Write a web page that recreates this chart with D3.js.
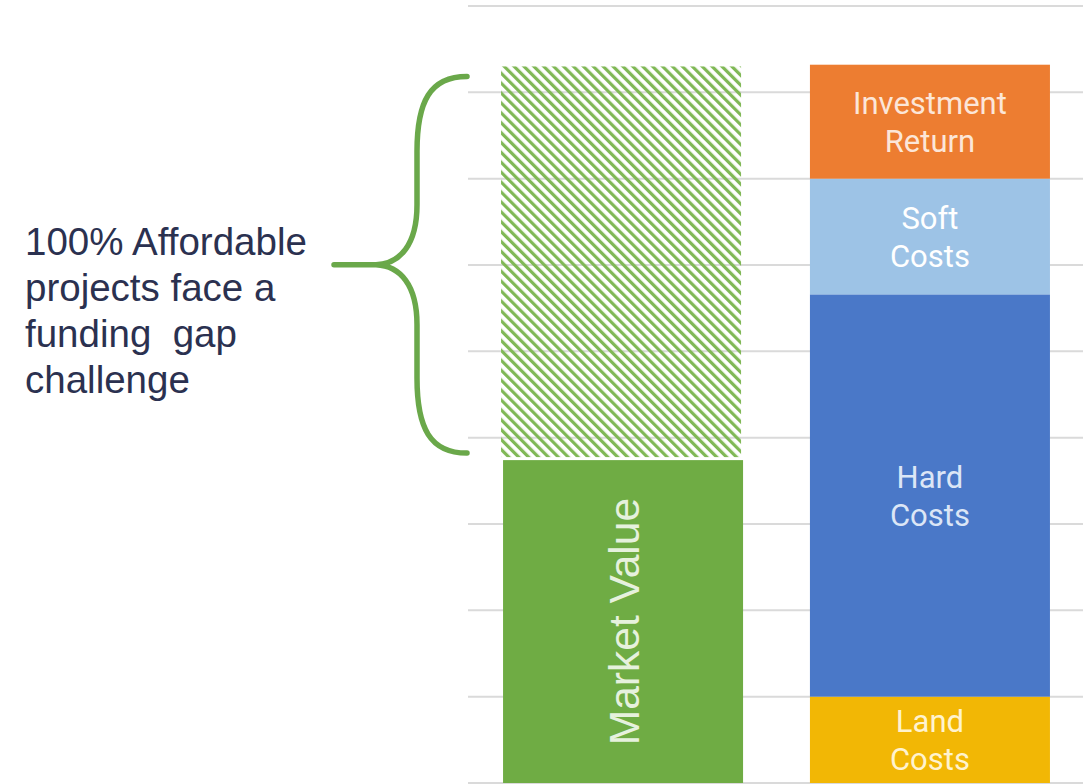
<!doctype html>
<html>
<head>
<meta charset="utf-8">
<title>Funding gap</title>
<script src="https://d3js.org/d3.v7.min.js"></script>
<style>
body { margin: 0; background: white; }
svg { display: block; }
</style>
</head>
<body>
<div id="chart"></div>
<script>
// data
var categories = ["Market Value", "Costs"];
var costLabels = [["Land", "Costs"], ["Hard", "Costs"], ["Soft", "Costs"], ["Investment", "Return"]];
var costValues = [1.0, 4.66, 1.34, 1.32];
var costColors = ["#F2B705", "#4A78C8", "#9DC3E6", "#ED7D31"];
var costText = ["#FFF3CF", "#DCE6F6", "#FFFFFF", "#FCE6D8"];
var marketValue = 3.74;
var fundingGap = 4.56;
var gridTicks = [0, 1, 2, 3, 4, 5, 6, 7, 8, 9];
var noteLines = ["100% Affordable", "projects face a", "funding  gap", "challenge"];

var width = 1092, height = 784;

var svg = d3.select("#chart").append("svg")
  .attr("width", width)
  .attr("height", height);

var x = d3.scaleBand()
  .domain(categories)
  .range([468, 1083])
  .paddingInner(0.223)
  .paddingOuter(0.107);

var y = d3.scaleLinear()
  .domain([0, 9])
  .range([783, 6]);

// hatch pattern for the gap
var defs = svg.append("defs");
defs.append("pattern")
  .attr("id", "hatch")
  .attr("patternUnits", "userSpaceOnUse")
  .attr("width", 7)
  .attr("height", 7)
  .attr("patternTransform", "rotate(-45)")
  .append("rect")
  .attr("x", 0).attr("y", 0)
  .attr("width", 3.2).attr("height", 7)
  .attr("fill", "#80B856");

// gridlines
svg.append("g")
  .selectAll("line")
  .data(gridTicks)
  .join("line")
  .attr("x1", 468)
  .attr("x2", 1083)
  .attr("y1", function(d) { return y(d); })
  .attr("y2", function(d) { return y(d); })
  .attr("stroke", "#DADADA")
  .attr("stroke-width", 2);

// market value bar + gap
var mx = x("Market Value"), bw = x.bandwidth();
svg.append("rect")
  .attr("x", mx + 2)
  .attr("y", y(marketValue))
  .attr("width", bw)
  .attr("height", y(0) - y(marketValue))
  .attr("fill", "#6FAC44");

svg.append("rect")
  .attr("x", mx)
  .attr("y", y(marketValue + fundingGap))
  .attr("width", bw)
  .attr("height", y(marketValue) - y(marketValue + fundingGap) - 3)
  .attr("fill", "url(#hatch)");

svg.append("text")
  .attr("transform", "translate(" + (mx + 2 + bw / 2 + 16) + "," + (y(marketValue / 2)) + ") rotate(-90)")
  .attr("text-anchor", "middle")
  .attr("font-family", "Liberation Sans, Arial, sans-serif")
  .attr("font-size", 42.5)
  .attr("fill", "#E6F1DD")
  .text("Market Value");

// stacked costs
var stack = [];
var acc = 0;
costValues.forEach(function(v, i) {
  stack.push({ y0: acc, y1: acc + v, label: costLabels[i], color: costColors[i], text: costText[i] });
  acc += v;
});

var cx = x("Costs");
var seg = svg.append("g").selectAll("g")
  .data(stack)
  .join("g");

seg.append("rect")
  .attr("x", cx)
  .attr("y", function(d) { return y(d.y1); })
  .attr("width", bw)
  .attr("height", function(d) { return y(d.y0) - y(d.y1); })
  .attr("fill", function(d) { return d.color; });

seg.each(function(d) {
  var m = (y(d.y0) + y(d.y1)) / 2;
  var t = d3.select(this).append("text")
    .attr("text-anchor", "middle")
    .attr("font-family", "Roboto, sans-serif")
    .attr("font-size", 31)
    .attr("fill", d.text);
  d.label.forEach(function(line, i) {
    t.append("tspan")
      .attr("x", cx + bw / 2)
      .attr("y", m + (i - 0.5) * 38 + 11)
      .text(line);
  });
});

// brace
var braceTop = y(marketValue + fundingGap) + 10;
var braceBot = y(marketValue) - 7;
var braceMid = (braceTop + braceBot) / 2;
var bp = d3.path();
bp.moveTo(467, braceTop);
bp.bezierCurveTo(430, braceTop, 417, braceTop + 25, 417, braceTop + 75);
bp.lineTo(417, braceMid - 60);
bp.bezierCurveTo(417, braceMid - 20, 400, braceMid - 1, 376, braceMid);
bp.lineTo(334, braceMid);
bp.moveTo(376, braceMid);
bp.bezierCurveTo(400, braceMid + 1, 417, braceMid + 20, 417, braceMid + 60);
bp.lineTo(417, braceBot - 75);
bp.bezierCurveTo(417, braceBot - 25, 430, braceBot, 467, braceBot);

svg.append("path")
  .attr("d", bp.toString())
  .attr("fill", "none")
  .attr("stroke", "#6AA84A")
  .attr("stroke-width", 5.5)
  .attr("stroke-linecap", "round");

// note text
svg.append("g").selectAll("text")
  .data(noteLines)
  .join("text")
  .attr("x", 25)
  .attr("y", function(d, i) { return 255 + i * 46; })
  .attr("font-family", "Liberation Sans, Arial, sans-serif")
  .attr("font-size", 38.5)
  .attr("fill", "#2B3150")
  .style("white-space", "pre")
  .text(function(d) { return d; });
</script>
</body>
</html>
